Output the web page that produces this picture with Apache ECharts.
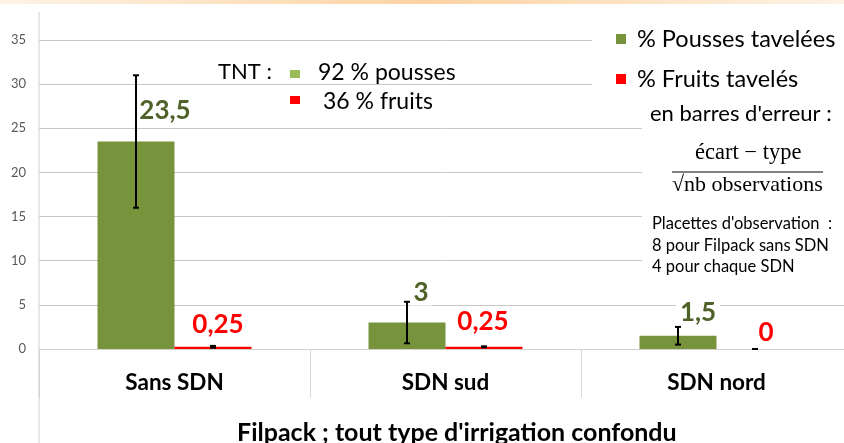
<!DOCTYPE html>
<html>
<head>
<meta charset="utf-8">
<script src="https://cdn.jsdelivr.net/npm/echarts@6/dist/echarts.min.js"></script>
<style>
  html, body { margin: 0; padding: 0; background: #fff; overflow: hidden; }
  #chart { width: 852px; height: 443px; }
</style>
</head>
<body>
<div id="chart"></div>
<script>
// données
const categories = ['Sans SDN', 'SDN sud', 'SDN nord'];
const pousses = [23.5, 3, 1.5];
const fruits = [0.25, 0.25, 0];
const poussesErr = [7.5, 2.35, 1];
const fruitsErr = [0.1, 0.05, 0];
const yTicks = [0, 5, 10, 15, 20, 25, 30, 35];

// mise en page
const BAR_W = 77;
const FONT = 'Lato, "Open Sans", sans-serif';
const SERIF = '"Liberation Serif", serif';
const poussesLabelOffset = [[29, -13], [14, -12], [20, -5]];
const fruitsLabelOffset = [[5, -4], [-1, -7], [11, 2]];

const fmt = (v) => String(v).replace('.', ',');

const errItems = (vals, errs) => vals.map((v, i) => [i, v - errs[i], v + errs[i]]);

const renderErr = (side) => (params, api) => {
  const idx = api.value(0);
  const x = api.coord([idx, 0])[0] + side * BAR_W / 2;
  const yLo = api.coord([idx, api.value(1)])[1];
  const yHi = api.coord([idx, api.value(2)])[1];
  const style = { stroke: '#000', lineWidth: 2 };
  return {
    type: 'group',
    children: [
      { type: 'line', shape: { x1: x, y1: yLo, x2: x, y2: yHi }, style },
      { type: 'line', shape: { x1: x - 3, y1: yLo, x2: x + 3, y2: yLo }, style },
      { type: 'line', shape: { x1: x - 3, y1: yHi, x2: x + 3, y2: yHi }, style }
    ]
  };
};

const chart = echarts.init(document.getElementById('chart'));
chart.setOption({
  animation: false,
  textStyle: { fontFamily: FONT },
  title: {
    text: "Filpack ; tout type d'irrigation confondu",
    left: 232, top: 415,
    textStyle: { fontFamily: FONT, fontSize: 25, fontWeight: 'bold', color: '#000' }
  },
  legend: {
    orient: 'vertical',
    left: 592, top: 14,
    padding: [12, 10, 10, 24],
    backgroundColor: '#fff',
    itemWidth: 10, itemHeight: 10, itemGap: 14,
    icon: 'rect',
    data: ['% Pousses tavelées', '% Fruits tavelés'],
    textStyle: { fontFamily: FONT, fontSize: 23.5, lineHeight: 26, color: '#000', padding: [0, 0, 0, 6] },
    z: 10
  },
  grid: { left: 39, top: 40, width: 813, height: 309 },
  xAxis: {
    type: 'category',
    data: categories,
    axisLine: { lineStyle: { color: '#d0d0d0', width: 1 } },
    axisTick: { show: true, length: 49, lineStyle: { color: '#d9d9d9' } },
    axisLabel: { margin: 22, fontFamily: FONT, fontSize: 22.5, fontWeight: 'bold', color: '#000' }
  },
  yAxis: {
    type: 'value',
    min: yTicks[0], max: yTicks[yTicks.length - 1], interval: 5,
    axisLine: { show: false },
    axisTick: { show: false },
    splitLine: { lineStyle: { color: '#c8c8c8' } },
    axisLabel: { margin: 13, fontFamily: FONT, fontSize: 13, color: '#595959' }
  },
  series: [
    {
      name: '% Pousses tavelées',
      type: 'bar',
      barWidth: BAR_W,
      barGap: '0%',
      itemStyle: { color: '#77933c' },
      data: pousses.map((v, i) => ({
        value: v,
        label: { offset: poussesLabelOffset[i] }
      })),
      label: {
        show: true, position: 'top',
        formatter: (p) => fmt(p.value),
        fontFamily: FONT, fontSize: 26, fontWeight: 'bold', color: '#4f6228',
        backgroundColor: '#fff', padding: [0, 4]
      },
      z: 3
    },
    {
      name: '% Fruits tavelés',
      type: 'bar',
      barWidth: BAR_W,
      barGap: '0%',
      itemStyle: { color: '#ff0000' },
      data: fruits.map((v, i) => ({
        value: v,
        label: { offset: fruitsLabelOffset[i] }
      })),
      label: {
        show: true, position: 'top',
        formatter: (p) => fmt(p.value),
        fontFamily: FONT, fontSize: 26, fontWeight: 'bold', color: '#ff0000',
        backgroundColor: '#fff', padding: [0, 4]
      },
      z: 3
    },
    {
      type: 'custom',
      renderItem: renderErr(-1),
      data: errItems(pousses, poussesErr),
      z: 4
    },
    {
      type: 'custom',
      renderItem: renderErr(1),
      data: errItems(fruits, fruitsErr),
      z: 4
    }
  ],
  graphic: [
    {
      type: 'rect', z: 20,
      shape: { x: 0, y: 0, width: 852, height: 4 },
      style: {
        fill: new echarts.graphic.LinearGradient(0, 0, 1, 0, [
          { offset: 0, color: 'rgba(251,214,170,0.3)' },
          { offset: 0.5, color: '#fbd3a2' },
          { offset: 1, color: 'rgba(251,214,170,0.3)' }
        ])
      }
    },
    {
      type: 'line', z: 20,
      shape: { x1: 39, y1: 12, x2: 39, y2: 443 },
      style: { stroke: '#d0d0d0', lineWidth: 1 }
    },
    // encadré des barres d'erreur
    {
      type: 'rect', z: 10,
      shape: { x: 642, y: 100, width: 210, height: 185 },
      style: { fill: '#fff' }
    },
    {
      type: 'text', z: 11, left: 650, top: 103,
      style: { text: "en barres d'erreur :", font: '22px ' + FONT, fill: '#000' }
    },
    {
      type: 'text', z: 11, left: 695, top: 142,
      style: { text: 'écart − type', font: '22.5px ' + SERIF, fill: '#000' }
    },
    {
      type: 'line', z: 11,
      shape: { x1: 672, y1: 172, x2: 823, y2: 172 },
      style: { stroke: '#000', lineWidth: 1 }
    },
    {
      type: 'text', z: 11, left: 672, top: 174,
      style: { text: '√nb observations', font: '22px ' + SERIF, fill: '#000' }
    },
    {
      type: 'text', z: 11, left: 652, top: 213,
      style: {
        text: "Placettes d'observation  :\n8 pour Filpack sans SDN\n4 pour chaque SDN",
        font: '16.5px ' + FONT, lineHeight: 21.5, fill: '#000'
      }
    },
    // encadré TNT
    {
      type: 'text', z: 11, left: 218, top: 61,
      style: { text: 'TNT :', font: '22px ' + FONT, fill: '#000' }
    },
    {
      type: 'rect', z: 11,
      shape: { x: 290, y: 70, width: 10, height: 8 },
      style: { fill: '#9bbb59' }
    },
    {
      type: 'text', z: 11, left: 318, top: 61,
      style: { text: '92 % pousses', font: '23px ' + FONT, fill: '#000' }
    },
    {
      type: 'rect', z: 11,
      shape: { x: 290, y: 96, width: 10, height: 8 },
      style: { fill: '#ff0000' }
    },
    {
      type: 'text', z: 11, left: 323, top: 90,
      style: { text: '36 % fruits', font: '23px ' + FONT, fill: '#000' }
    }
  ]
});
</script>
</body>
</html>
